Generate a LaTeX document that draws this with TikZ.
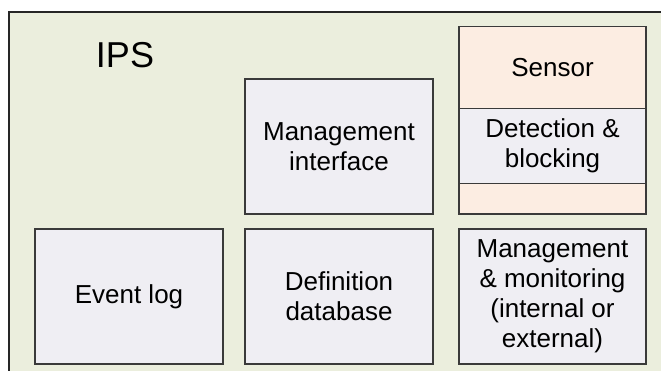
\documentclass[tikz,border=0pt]{standalone}
\usepackage{fontspec}
\setmainfont{Liberation Sans}
\usepackage{tikz}

\definecolor{rahmen}{HTML}{EBEEDD}
\definecolor{kasten}{HTML}{EFEEF3}
\definecolor{sensorfarbe}{HTML}{FCEDE2}
\definecolor{linie}{HTML}{3A3A3A}

\tikzset{
  teil/.style={draw=linie, line width=0.9pt, fill=kasten, align=center,
    minimum width=141pt, minimum height=101.25pt, inner sep=0pt,
    font=\fontsize{19.5}{22.5}\selectfont},
}

\begin{document}
\begin{tikzpicture}[x=0.75pt, y=-0.75pt]
\useasboundingbox (0,0) rectangle (661,371);
\clip (0,0) rectangle (661,371);

%Rahmen
\draw[draw=black!85, line width=1.1pt, fill=rahmen] (9,12) rectangle (675,385);
\node[anchor=base, font=\fontsize{27}{30}\selectfont] (ips) at (125,67) {IPS};

%Sensor mit Erkennung
\node[teil, fill=sensorfarbe, minimum width=140.25pt, minimum height=140.5pt] (sensor) at (552.5,120.35) {};
\node[font=\fontsize{19.5}{22.5}\selectfont] (sensortext) at (552.5,67.7) {Sensor};
\node[teil, minimum width=140.25pt, minimum height=56.25pt] (detect) at (552.5,146.2) {Detection \&\\blocking};

%Kästen
\node[teil] (mgmtif) at (339,146.5) {Management\\interface};
\node[teil] (eventlog) at (129,296.5) {Event log};
\node[teil] (defdb) at (339,296.5) {Definition\\database};
\node[teil, minimum width=140.25pt] (monitor) at (552.5,296.5) {Management\\\& monitoring\\(internal or\\external)};
\end{tikzpicture}
\end{document}
